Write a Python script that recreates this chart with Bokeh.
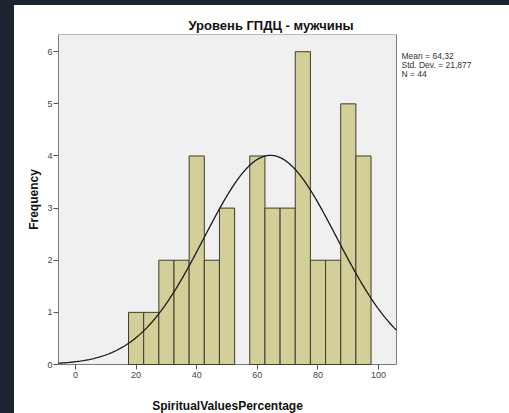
import math
import numpy as np
from bokeh.plotting import figure
from bokeh.models import Range1d, FixedTicker, Label
from bokeh.embed import file_html
from bokeh.resources import INLINE

# ---- data ----
bin_centers = [20, 25, 30, 35, 40, 45, 50, 55, 60, 65, 70, 75, 80, 85, 90, 95]
counts = [1, 1, 2, 2, 4, 2, 3, 0, 4, 3, 3, 6, 2, 2, 5, 4]
bin_width = 5
mean_val = 64.32
std_val = 21.877
n_val = 44
x_ticks = [0, 20, 40, 60, 80, 100]
y_ticks = [0, 1, 2, 3, 4, 5, 6]
title_text = "Уровень ГПДЦ - мужчины"
x_label = "SpiritualValuesPercentage"
y_label = "Frequency"
stats_lines = ["Mean = 64,32", "Std. Dev. = 21,877", "N = 44"]

FONT = "Liberation Sans"
W, H = 495, 408
TOP = 29                       # space for the title
X0, X1 = -5.6, 105.9           # plot-area range
Y0, Y1 = 0, 6.33
PX_PER_X = 338 / (X1 - X0)
PX_PER_Y = 330 / (Y1 - Y0)
PLOT_LEFT = 44                 # px from figure left to plot area
XL = X0 - PLOT_LEFT / PX_PER_X
XR = XL + W / PX_PER_X
YB = Y1 - (H - TOP) / PX_PER_Y

p = figure(width=W, height=H, output_backend="svg", toolbar_location=None,
           x_range=Range1d(XL, XR), y_range=Range1d(YB, Y1),
           min_border_left=0, min_border_right=0, min_border_top=TOP, min_border_bottom=0)

p.background_fill_color = "white"
p.border_fill_color = "white"
p.outline_line_color = None
p.xgrid.visible = False
p.ygrid.visible = False

# title
p.title.text = title_text
p.title.text_font = FONT
p.title.text_font_size = "13px"
p.title.text_font_style = "bold"
p.title.text_color = "#111111"
p.title.align = "left"
p.title.offset = 174
p.title.standoff = 3

# plot area box
p.quad(left=[X0], right=[X1], bottom=[Y0], top=[Y1], fill_color="#f0f0f0",
       line_color="#7a7a7a", line_width=1)

# bars
l = [c - bin_width / 2 for c, h in zip(bin_centers, counts) if h > 0]
r = [c + bin_width / 2 for c, h in zip(bin_centers, counts) if h > 0]
t = [h for h in counts if h > 0]
p.quad(left=l, right=r, bottom=0, top=t, fill_color="#d4cf98",
       line_color="#3c3c30", line_width=1)

# normal curve
xs = np.linspace(X0, X1, 300)
ys = n_val * bin_width / (std_val * math.sqrt(2 * math.pi)) * np.exp(-0.5 * ((xs - mean_val) / std_val) ** 2)
p.line(xs, ys, line_color="#1a1a1a", line_width=1.3)

# axes pinned to the plot-area edges
p.xaxis.fixed_location = Y0
p.yaxis.fixed_location = X0
for ax in (p.xaxis[0], p.yaxis[0]):
    ax.axis_line_color = None
    ax.major_tick_line_color = "#555555"
    ax.major_tick_in = 0
    ax.major_tick_out = 5
    ax.minor_tick_line_color = None
    ax.major_label_text_font = FONT
    ax.major_label_text_font_size = "9px"
    ax.major_label_text_color = "#444444"
p.xaxis.ticker = FixedTicker(ticks=x_ticks)
p.yaxis.ticker = FixedTicker(ticks=y_ticks)
p.xaxis.major_label_standoff = 2
p.yaxis.major_label_standoff = 1

# axis titles
p.add_layout(Label(x=(X0 + X1) / 2, y=-41 / PX_PER_Y, text=x_label, text_font=FONT,
                   text_font_size="12px", text_font_style="bold", text_color="#111111",
                   text_align="center", text_baseline="middle"))
p.add_layout(Label(x=X0 - 25 / PX_PER_X, y=(Y0 + Y1) / 2, text=y_label, text_font=FONT,
                   text_font_size="12px", text_font_style="bold", text_color="#111111",
                   text_align="center", text_baseline="middle", angle=math.pi / 2))

# stats text
sx = X1 + 5 / PX_PER_X
for i, s in enumerate(stats_lines):
    p.add_layout(Label(x=sx, y=6 - (4.5 + i * 8.8) / PX_PER_Y, text=s, text_font=FONT,
                       text_font_size="8.5px", text_color="#333333",
                       text_baseline="middle", text_align="left"))

html = file_html(p, INLINE)
style = ("<style>html, body {margin:0 !important; padding:0 !important;}"
         " body {background:#ffffff !important; box-sizing:border-box;"
         " border-top:5px solid #1c2230; border-left:14px solid #1c2230;}</style>")
html = html.replace("</head>", style + "</head>", 1)
open("out.html", "w").write(html)
